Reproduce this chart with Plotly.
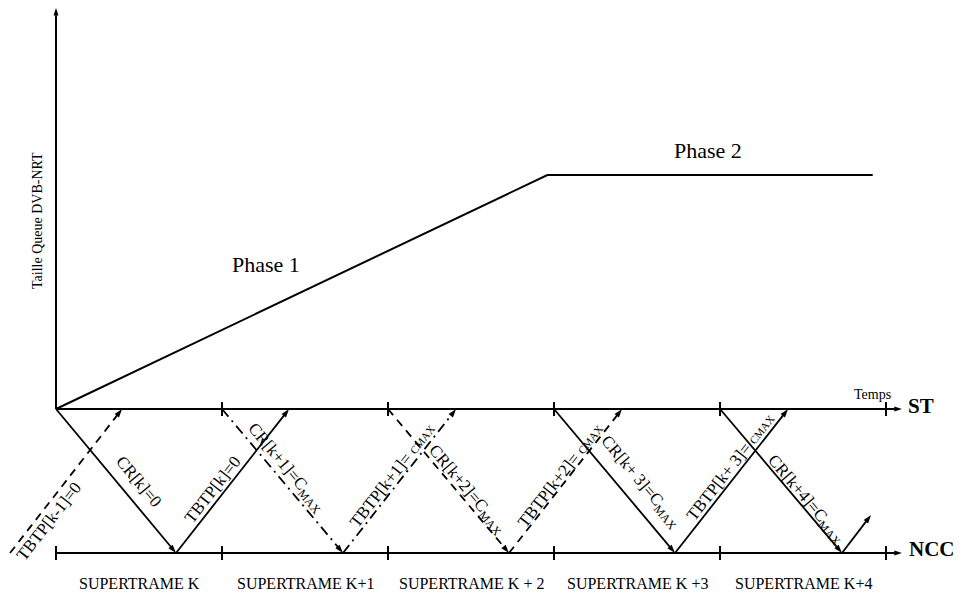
import math
import plotly.graph_objects as go

# ---- data (time in superframe units, level: ST = 0, NCC = -1, queue above ST) ----
superframe_bounds = [0, 1, 2, 3, 4, 5]
superframe_labels = ["SUPERTRAME K", "SUPERTRAME K+1", "SUPERTRAME K + 2",
                     "SUPERTRAME K +3", "SUPERTRAME K+4"]

queue_t = [0, 2.96, 4.92]
queue_size = [0, 1.625, 1.625]

msg_labels = [
    "TBTP[k-1]=0",
    "CR[k]=0",
    "TBTP[k]=0",
    "CR[k+1]=C<sub>MAX</sub>",
    "TBTP[k+1]= <span style='font-size:11px'>CMAX</span>",
    "CR[k+2]=C<sub>MAX</sub>",
    "TBTP[k+2]= <span style='font-size:11px'>CMAX</span>",
    "CR[k+ 3]=C<sub>MAX</sub>",
    "TBTP[k+ 3]= <span style='font-size:11px'>CMAX</span>",
    "CR[k+4]=C<sub>MAX</sub>",
    "",
]
msg_t_start = [-0.277, 0.0, 0.723, 1.0, 1.729, 2.0, 2.729, 3.0, 3.729, 4.0, 4.735]
msg_t_end = [0.398, 0.723, 1.404, 1.729, 2.41, 2.729, 3.41, 3.729, 4.41, 4.735, 4.91]
msg_v_start = [-1, 0, -1, 0, -1, 0, -1, 0, -1, 0, -1]
msg_v_end = [0, -1, 0, -1, 0, -1, 0, -1, 0, -1, -0.736]
msg_dash = ["8px,6px", "solid", "solid", "10px,5px,2px,5px", "10px,5px,2px,5px",
            "8px,6px", "8px,6px", "solid", "solid", "solid", "solid"]
# label placement: fraction along the arrow and horizontal pixel shift
label_frac = [0.22, 0.50, 0.44, 0.41, 0.54, 0.56, 0.54, 0.51, 0.60, 0.63, 0.5]
label_shift = [14, 23, -13, 14, -12, 11, -10, 24, -12, 9, 0]

# ---- pixel mapping of the drawing ----
W, H = 962, 597
X0, SF = 56, 166      # origin px, px per superframe
Y0, LV = 409, 144     # ST line px, px per level unit
x_range = [(0 - X0) / SF, (W - X0) / SF]
y_range = [(Y0 - H) / LV, Y0 / LV]

FONT = "Liberation Serif, Times New Roman, serif"
BLACK = "#000000"

fig = go.Figure()


def arrow_line(xs, ys, dash="solid", width=1.8, head=9):
    fig.add_trace(go.Scatter(
        x=xs, y=ys, mode="lines+markers",
        line=dict(color=BLACK, width=width, dash=dash),
        marker=dict(symbol=["circle", "arrow"], size=[0, head], color=BLACK,
                    angleref="previous", line=dict(width=0), opacity=1),
        hoverinfo="skip", showlegend=False))


def plain_line(xs, ys, width=2):
    fig.add_trace(go.Scatter(x=xs, y=ys, mode="lines",
                             line=dict(color=BLACK, width=width),
                             hoverinfo="skip", showlegend=False))


axis_end = superframe_bounds[-1] + 0.096
tick_h = 7 / LV

# vertical axis (queue size)
arrow_line([0, 0], [0, (Y0 - 8) / LV], width=2, head=8)
# ST and NCC time lines
arrow_line([0, axis_end], [0, 0], width=2, head=8)
arrow_line([0, axis_end], [-1, -1], width=2, head=8)

# superframe ticks
for i, b in enumerate(superframe_bounds):
    if i > 0:
        plain_line([b, b], [-tick_h, tick_h])
    plain_line([b, b], [-1 - tick_h, -1 + tick_h])

# queue size evolution
plain_line(queue_t, queue_size, width=2)

# messages
for i in range(len(msg_labels)):
    arrow_line([msg_t_start[i], msg_t_end[i]], [msg_v_start[i], msg_v_end[i]],
               dash=msg_dash[i], width=1.8, head=9)
    if msg_labels[i]:
        f = label_frac[i]
        lx = msg_t_start[i] + f * (msg_t_end[i] - msg_t_start[i])
        ly = msg_v_start[i] + f * (msg_v_end[i] - msg_v_start[i])
        dx_px = (msg_t_end[i] - msg_t_start[i]) * SF
        dy_px = (msg_v_end[i] - msg_v_start[i]) * LV
        ang = math.degrees(math.atan2(-dy_px, dx_px))
        fig.add_annotation(x=lx, y=ly, xshift=label_shift[i], text=msg_labels[i],
                           textangle=ang, showarrow=False,
                           font=dict(family=FONT, size=17, color=BLACK))

# superframe labels
for i, lab in enumerate(superframe_labels):
    fig.add_annotation(x=(superframe_bounds[i] + superframe_bounds[i + 1]) / 2,
                       y=(Y0 - 583) / LV, text=lab, showarrow=False,
                       font=dict(family=FONT, size=16, color=BLACK))

# other texts
fig.add_annotation(x=(37 - X0) / SF, y=(Y0 - 221) / LV, text="Taille Queue DVB-NRT",
                   textangle=-90, showarrow=False,
                   font=dict(family=FONT, size=14, color=BLACK))
fig.add_annotation(x=(266 - X0) / SF, y=(Y0 - 264) / LV, text="Phase 1",
                   showarrow=False, font=dict(family=FONT, size=22, color=BLACK))
fig.add_annotation(x=(708 - X0) / SF, y=(Y0 - 150) / LV, text="Phase 2",
                   showarrow=False, font=dict(family=FONT, size=22, color=BLACK))
fig.add_annotation(x=(872 - X0) / SF, y=(Y0 - 394) / LV, text="Temps",
                   showarrow=False, font=dict(family=FONT, size=14, color=BLACK))
fig.add_annotation(x=(921 - X0) / SF, y=(Y0 - 406) / LV, text="<b>ST</b>",
                   showarrow=False, font=dict(family=FONT, size=21, color=BLACK))
fig.add_annotation(x=(932 - X0) / SF, y=(Y0 - 549) / LV, text="<b>NCC</b>",
                   showarrow=False, font=dict(family=FONT, size=21, color=BLACK))

fig.update_layout(
    width=W, height=H, autosize=False,
    margin=dict(l=0, r=0, t=0, b=0),
    paper_bgcolor="white", plot_bgcolor="white",
    xaxis=dict(range=x_range, visible=False, fixedrange=True),
    yaxis=dict(range=y_range, visible=False, fixedrange=True),
    showlegend=False,
)

fig.write_html("out.html", config={"displayModeBar": False},
               post_script="document.body.style.margin='0px';"
                           "document.body.style.overflow='hidden';")
